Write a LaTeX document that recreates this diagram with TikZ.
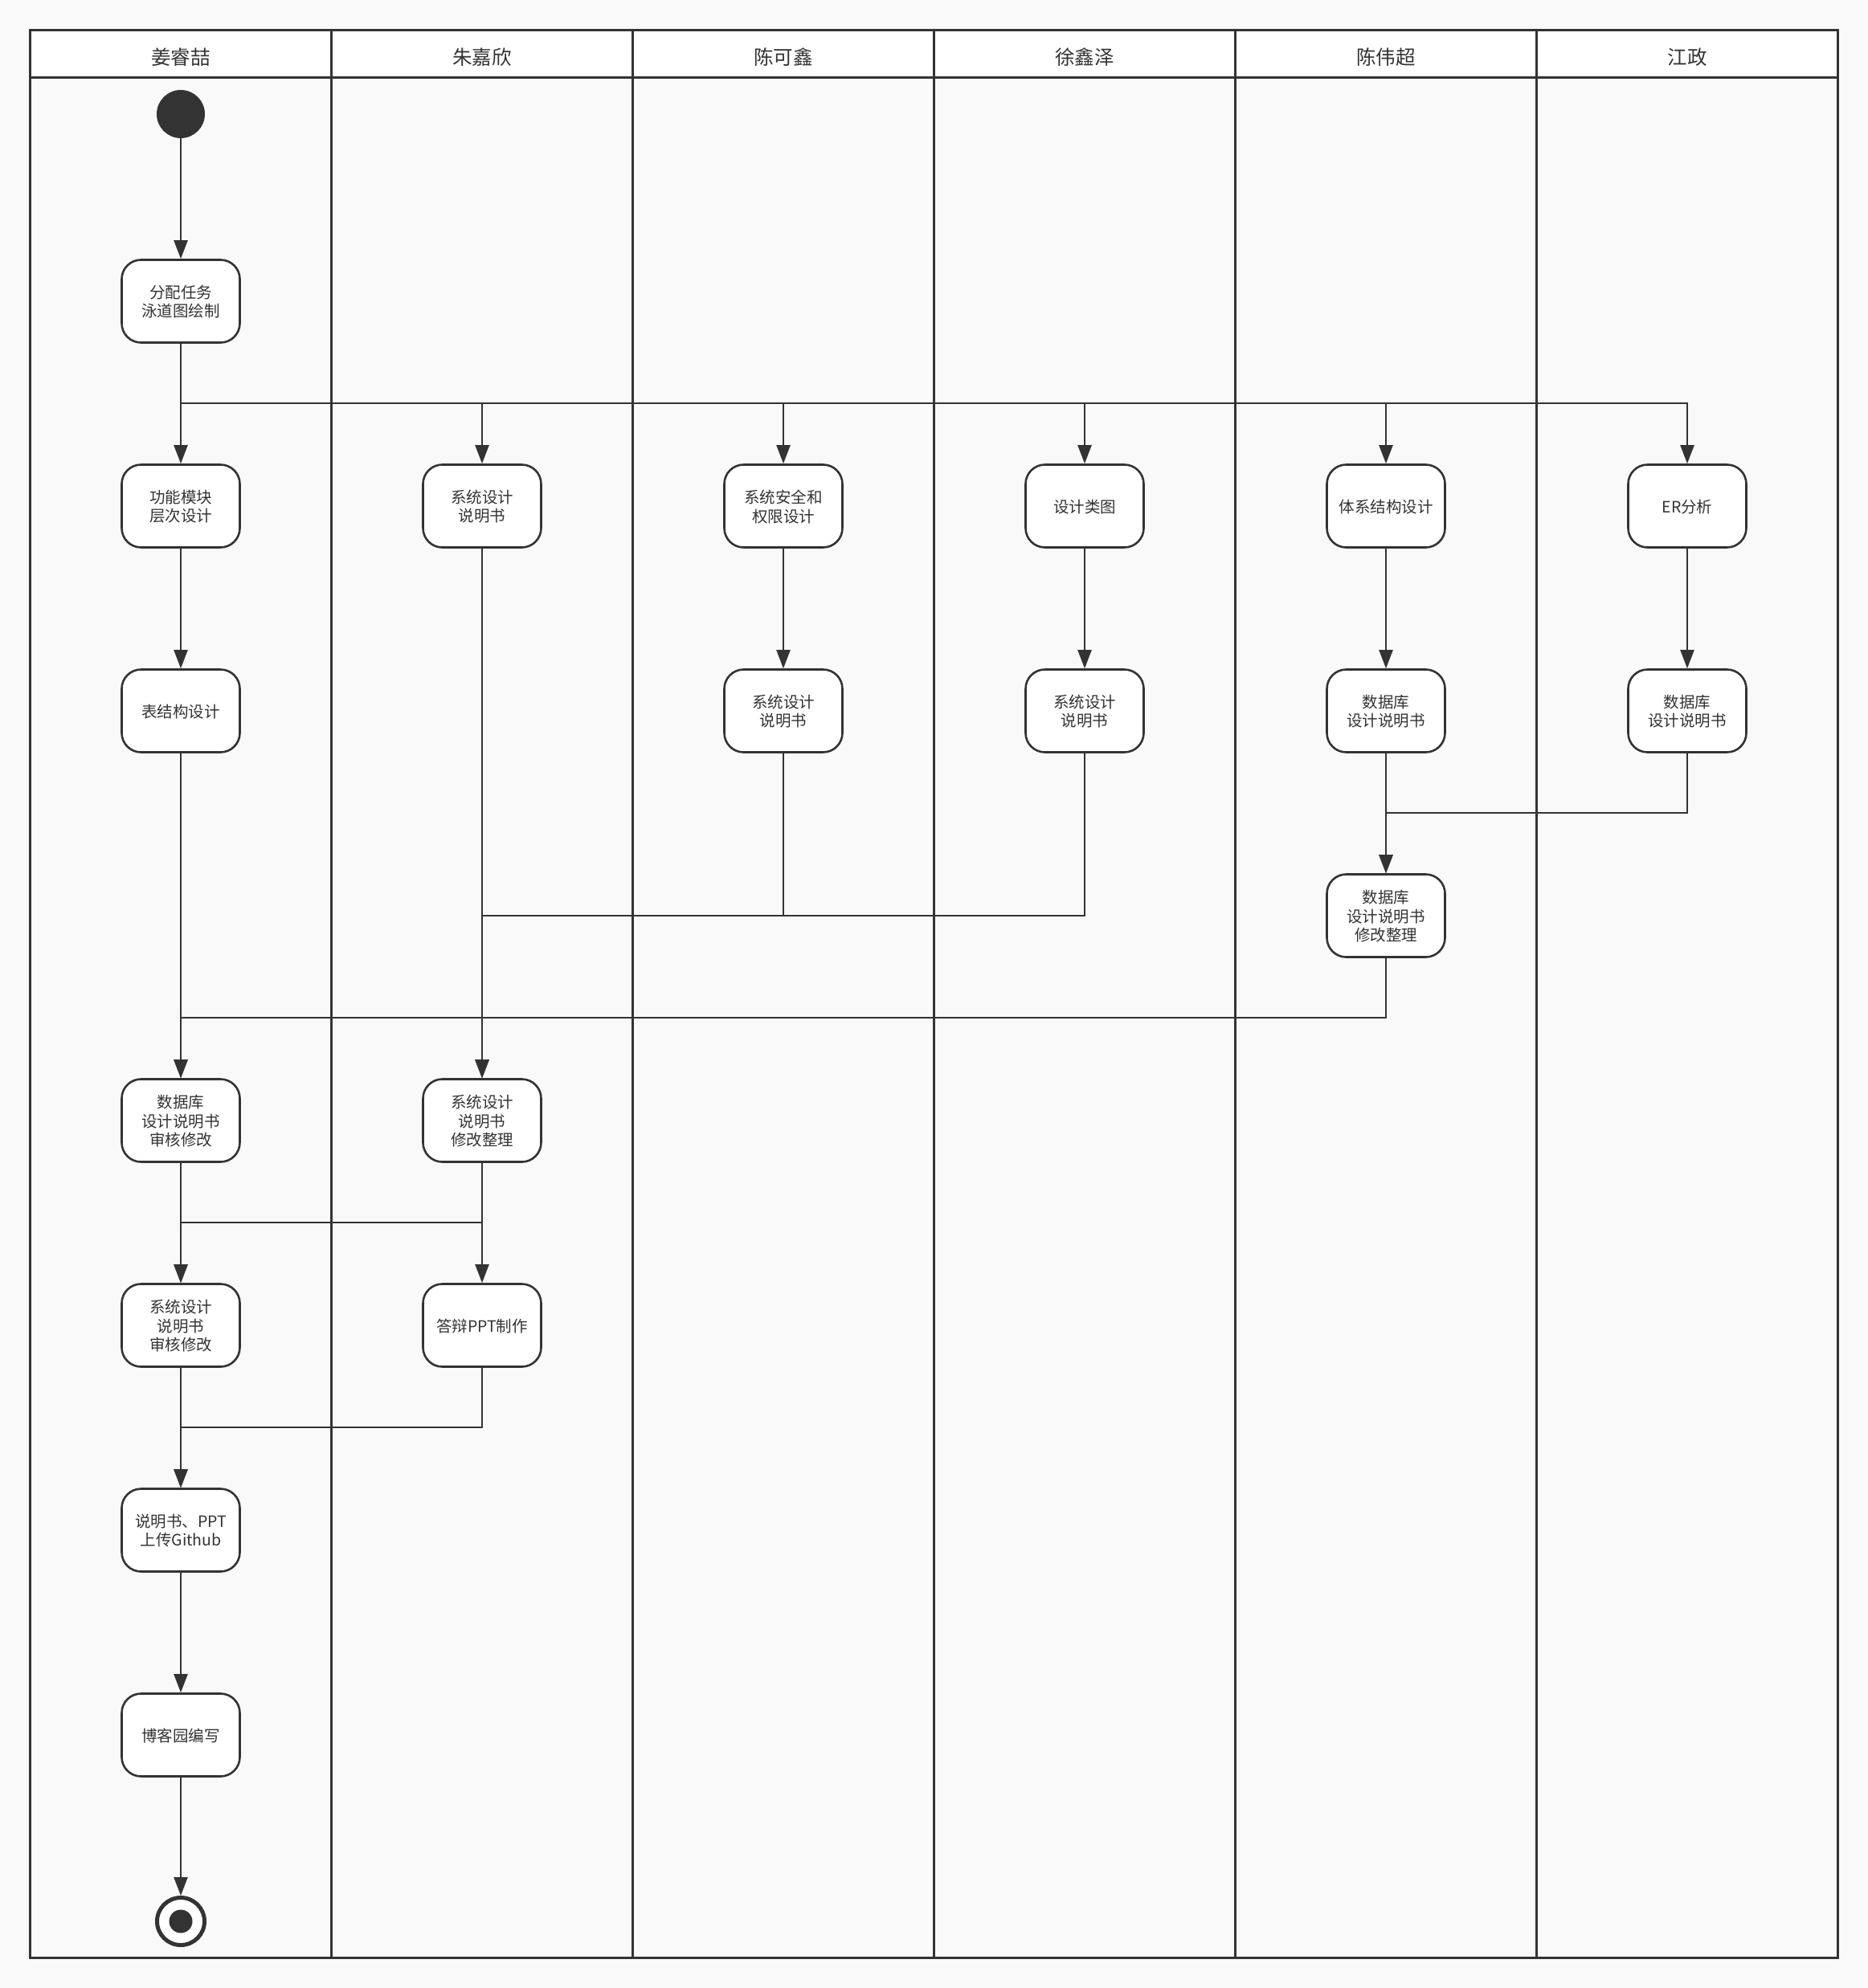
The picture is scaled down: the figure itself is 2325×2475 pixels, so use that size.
\documentclass[tikz,border=0pt]{standalone}
\usepackage{fontspec}
\setmainfont{Noto Sans CJK SC}
\usetikzlibrary{arrows.meta}
\definecolor{lc}{HTML}{333333}
\definecolor{bgc}{HTML}{F9F9F9}
\newcommand{\acttxt}[1]{\raisebox{-3.5pt}[\height][\depth]{\begin{tabular}{@{}c@{}}#1\end{tabular}}}
\begin{document}
\begin{tikzpicture}[x=1pt,y=-1pt,
  act/.style={draw=lc, line width=2.6pt, fill=white, rounded corners=24pt, minimum width=147pt, minimum height=103pt, inner sep=2pt, text=lc, font=\fontsize{19.5}{23.5}\selectfont},
  conn/.style={draw=lc, line width=2.2pt, -{Triangle[length=23pt,width=17pt]}},
  hdr/.style={text=lc, font=\fontsize{24.5}{28}\selectfont},
  frameline/.style={draw=lc, line width=3pt}]
\useasboundingbox (0,0) rectangle (2325,2475);
\fill[bgc] (0,0) rectangle (2325,2475);
% header
\fill[white] (37.5,37.5) rectangle (2287.5,97);
\draw[frameline] (37.5,37.5) rectangle (2287.5,2437);
\draw[frameline] (37.5,97) -- (2287.5,97);
\foreach \xx in {412.5,787.5,1162.5,1537.5,1912.5}
  \draw[frameline] (\xx,37.5) -- (\xx,2437);
\foreach \n [count=\i] in {姜睿喆,朱嘉欣,陈可鑫,徐鑫泽,陈伟超,江政}
  \node[hdr] (h\i) at ({37.5+375*(\i-0.5)},71) {\n};
% start / end
\node[circle, fill=lc, minimum size=60pt, inner sep=0pt] (start) at (225,142) {};
\node[circle, draw=lc, line width=5pt, fill=white, minimum size=59pt, inner sep=0pt] (end) at (225,2392) {};
\node[circle, fill=lc, minimum size=29pt, inner sep=0pt] (endin) at (end.center) {};
% activities
\node[act] (a1) at (225,375) {\acttxt{分配任务\\泳道图绘制}};
\node[act] (a2) at (225,630) {\acttxt{功能模块\\层次设计}};
\node[act] (b2) at (600,630) {\acttxt{系统设计\\说明书}};
\node[act] (c2) at (975,630) {\acttxt{系统安全和\\权限设计}};
\node[act] (d2) at (1350,630) {\acttxt{设计类图}};
\node[act] (e2) at (1725,630) {\acttxt{体系结构设计}};
\node[act] (f2) at (2100,630) {\acttxt{ER分析}};
\node[act] (a3) at (225,885) {\acttxt{表结构设计}};
\node[act] (c3) at (975,885) {\acttxt{系统设计\\说明书}};
\node[act] (d3) at (1350,885) {\acttxt{系统设计\\说明书}};
\node[act] (e3) at (1725,885) {\acttxt{数据库\\设计说明书}};
\node[act] (f3) at (2100,885) {\acttxt{数据库\\设计说明书}};
\node[act] (e4) at (1725,1140) {\acttxt{数据库\\设计说明书\\修改整理}};
\node[act] (a5) at (225,1395) {\acttxt{数据库\\设计说明书\\审核修改}};
\node[act] (b5) at (600,1395) {\acttxt{系统设计\\说明书\\修改整理}};
\node[act] (a6) at (225,1650) {\acttxt{系统设计\\说明书\\审核修改}};
\node[act] (b6) at (600,1650) {\acttxt{答辩PPT制作}};
\node[act] (a7) at (225,1905) {\acttxt{说明书、PPT\\上传Github}};
\node[act] (a8) at (225,2160) {\acttxt{博客园编写}};
% junctions
\coordinate (fk) at (225,502);
\coordinate (j2) at (1725,1012);
\coordinate (j3) at (600,1140);
\coordinate (j4) at (225,1267);
\coordinate (j5) at (225,1522);
\coordinate (j6) at (225,1777);
% connectors
\draw[conn] (start.south) -- (a1.north);
\draw[conn] (a1.south) -- (a2.north);
\foreach \t in {b2,c2,d2,e2,f2}
  \draw[conn] (a1.south) -- (fk) -| (\t.north);
\draw[conn] (a2.south) -- (a3.north);
\draw[conn] (c2.south) -- (c3.north);
\draw[conn] (d2.south) -- (d3.north);
\draw[conn] (e2.south) -- (e3.north);
\draw[conn] (f2.south) -- (f3.north);
\draw[conn] (e3.south) -- (e4.north);
\draw[conn] (f3.south) |- (j2) -- (e4.north);
\draw[conn] (b2.south) -- (b5.north);
\draw[conn] (c3.south) |- (j3) -- (b5.north);
\draw[conn] (d3.south) |- (j3) -- (b5.north);
\draw[conn] (a3.south) -- (a5.north);
\draw[conn] (e4.south) |- (j4) -- (a5.north);
\draw[conn] (a5.south) -- (a6.north);
\draw[conn] (b5.south) -- (b6.north);
\draw[conn] (b5.south) |- (j5) -- (a6.north);
\draw[conn] (a6.south) -- (a7.north);
\draw[conn] (b6.south) |- (j6) -- (a7.north);
\draw[conn] (a7.south) -- (a8.north);
\draw[conn] (a8.south) -- (end.north);
\end{tikzpicture}
\end{document}
